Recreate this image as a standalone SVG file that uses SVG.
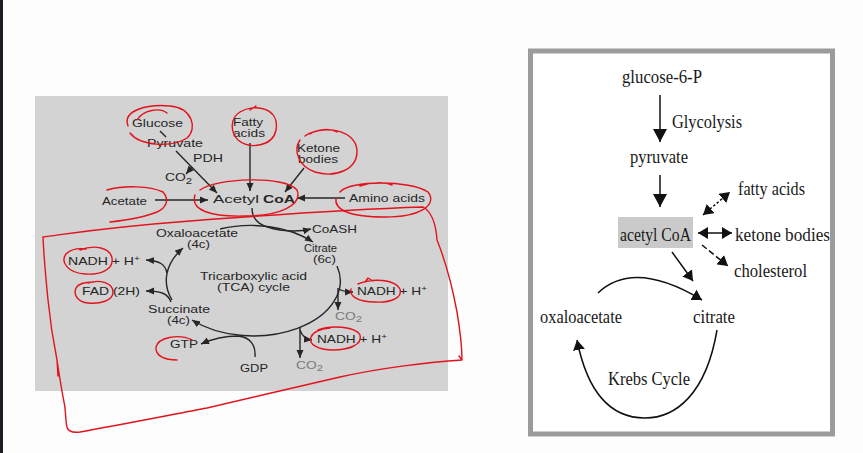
<svg xmlns="http://www.w3.org/2000/svg" width="863" height="453" viewBox="0 0 863 453">
<style>
.t{font-family:"Liberation Sans",Arial,sans-serif;font-size:11px;fill:#262626}
.b{font-weight:bold}
.g{fill:#7a7a7a}
.s{font-family:"Liberation Serif","Times New Roman",serif;font-size:19px;fill:#1a1a1a}
.ln{fill:none;stroke:#262626;stroke-width:1.4}
.la{fill:none;stroke:#262626;stroke-width:1.4;marker-end:url(#ah)}
.ra{fill:none;stroke:#111;stroke-width:1.5}
.red{fill:none;stroke:#e3121c;stroke-width:1.4;stroke-linecap:round;stroke-linejoin:round}
</style>
<defs>
<marker id="ah" markerUnits="userSpaceOnUse" markerWidth="9" markerHeight="8" refX="8" refY="4" orient="auto"><path d="M0,0.5 L8,4 L0,7.5 z" fill="#262626"/></marker>
<marker id="bh" markerUnits="userSpaceOnUse" markerWidth="14" markerHeight="14" refX="13" refY="7" orient="auto"><path d="M0,0 L13,7 L0,14 z" fill="#111"/></marker>
<marker id="mh" markerUnits="userSpaceOnUse" markerWidth="11" markerHeight="12" refX="10" refY="6" orient="auto-start-reverse"><path d="M0,0 L10,6 L0,12 z" fill="#111"/></marker>
</defs>
<rect x="0" y="0" width="863" height="453" fill="#fdfdfd"/>
<rect x="0" y="0" width="3" height="453" fill="#1b1f23"/>

<!-- LEFT PANEL -->
<rect id="left-panel" x="35" y="96" width="413" height="295" fill="#d3d3d3"/>

<g id="connectors-left">
<path class="ln" d="M160,131 L166,137"/>
<path class="la" d="M176,151 L217,193"/>
<path class="la" d="M192,167 L186,174"/>
<path class="la" d="M155,200 L208,200"/>
<path class="la" d="M250,143 L250,191"/>
<path class="la" d="M304,168 L285,192"/>
<path class="la" d="M345,198 L297,198"/>
<path class="la" d="M252,208 C252,222 262,227 280,230 C295,232 303,231 311,229"/>
<path class="la" d="M220,229 A87,55 0 0 1 313,242"/>
<path class="la" d="M337,266 A87,55 0 0 1 192,320"/>
<path class="la" d="M172,300 A87,55 0 0 1 183,248"/>
<path class="la" d="M167,273 C165,264 160,261 146,260"/>
<path class="la" d="M171,302 C168,294 162,291 146,291"/>
<path class="la" d="M255,357 C256,345 250,337 238,336 C224,336 212,339 201,344"/>
<path class="la" d="M338,288 L338,310"/>
<path class="la" d="M339,289 Q343,292 353,292"/>
<path class="la" d="M300,327 L300,358"/>
<path class="la" d="M300,330 Q303,339 312,340"/>
</g>

<g id="glucose"><text class="t" x="132" y="127" textLength="51" lengthAdjust="spacingAndGlyphs">Glucose</text></g>
<g id="pyruvate"><text class="t" x="147" y="147" textLength="56" lengthAdjust="spacingAndGlyphs">Pyruvate</text></g>
<g id="pdh"><text class="t" x="193" y="162" textLength="30" lengthAdjust="spacingAndGlyphs">PDH</text></g>
<g id="co2-top"><text class="t" x="165" y="181" font-size="13" textLength="27" lengthAdjust="spacingAndGlyphs">CO<tspan dy="3" font-size="9">2</tspan></text></g>
<g id="acetate"><text class="t" x="102" y="205" textLength="45" lengthAdjust="spacingAndGlyphs">Acetate</text></g>
<g id="acetyl-coa"><text class="t" x="213" y="203" textLength="46" lengthAdjust="spacingAndGlyphs">Acetyl</text><text class="t b" x="263" y="203" textLength="32" lengthAdjust="spacingAndGlyphs">CoA</text></g>
<g id="fatty-acids"><text class="t" x="233" y="126" textLength="30" lengthAdjust="spacingAndGlyphs">Fatty</text><text class="t" x="233" y="137" textLength="32" lengthAdjust="spacingAndGlyphs">acids</text></g>
<g id="ketone-bodies"><text class="t" x="297" y="152" textLength="43" lengthAdjust="spacingAndGlyphs">Ketone</text><text class="t" x="298" y="163" textLength="40" lengthAdjust="spacingAndGlyphs">bodies</text></g>
<g id="amino-acids"><text class="t" x="349" y="202" textLength="76" lengthAdjust="spacingAndGlyphs">Amino acids</text></g>
<g id="oxaloacetate-l"><text class="t" x="156" y="237" textLength="82" lengthAdjust="spacingAndGlyphs">Oxaloacetate</text><text class="t" x="187" y="248" textLength="23" lengthAdjust="spacingAndGlyphs">(4c)</text></g>
<g id="coash"><text class="t" x="312" y="233" textLength="45" lengthAdjust="spacingAndGlyphs">CoASH</text></g>
<g id="citrate-l"><text class="t" x="304" y="252" textLength="33" lengthAdjust="spacingAndGlyphs">Citrate</text><text class="t" x="313" y="263" textLength="23" lengthAdjust="spacingAndGlyphs">(6c)</text></g>
<g id="tca"><text class="t" x="200" y="280" textLength="107" lengthAdjust="spacingAndGlyphs">Tricarboxylic acid</text><text class="t" x="217" y="291" textLength="73" lengthAdjust="spacingAndGlyphs">(TCA) cycle</text></g>
<g id="nadh-l"><text class="t" x="68" y="265" textLength="72" lengthAdjust="spacingAndGlyphs">NADH + H<tspan font-size="8" dy="-4">+</tspan></text></g>
<g id="fad"><text class="t" x="82" y="295" textLength="58" lengthAdjust="spacingAndGlyphs">FAD (2H)</text></g>
<g id="succinate"><text class="t" x="148" y="313" textLength="62" lengthAdjust="spacingAndGlyphs">Succinate</text><text class="t" x="167" y="324" textLength="23" lengthAdjust="spacingAndGlyphs">(4c)</text></g>
<g id="gtp"><text class="t" x="170" y="348" textLength="28" lengthAdjust="spacingAndGlyphs">GTP</text></g>
<g id="gdp"><text class="t" x="240" y="372" textLength="28" lengthAdjust="spacingAndGlyphs">GDP</text></g>
<g id="nadh-r1"><text class="t" x="357" y="295" textLength="70" lengthAdjust="spacingAndGlyphs">NADH + H<tspan font-size="8" dy="-4">+</tspan></text></g>
<g id="co2-r1"><text class="t g" x="335" y="320" font-size="12" textLength="27" lengthAdjust="spacingAndGlyphs">CO<tspan dy="2" font-size="9">2</tspan></text></g>
<g id="nadh-r2"><text class="t" x="317" y="343" textLength="70" lengthAdjust="spacingAndGlyphs">NADH + H<tspan font-size="8" dy="-4">+</tspan></text></g>
<g id="co2-r2"><text class="t g" x="296" y="369" font-size="12" textLength="27" lengthAdjust="spacingAndGlyphs">CO<tspan dy="2" font-size="9">2</tspan></text></g>

<!-- red annotations -->
<g id="annotations">
<path class="red" d="M128,126 C122,110 148,104 170,106 C192,108 198,128 187,138 C172,148 140,146 130,133 M137,120 C143,110 160,107 167,113"/>
<path class="red" d="M240,112 C255,103 280,108 276,130 C273,146 250,150 238,140 C230,132 230,118 240,112 M250,110 L256,106"/>
<path class="red" d="M305,136 C320,125 355,128 357,150 C358,170 335,178 315,172 C298,166 293,150 300,140 M310,134 C318,129 330,128 337,132"/>
<path class="red" d="M200,190 C215,178 285,175 297,190 C303,205 280,216 245,216 C210,217 190,210 195,195"/>
<path class="red" d="M107,190 C125,185 150,186 163,192 C170,200 166,208 157,212 C145,217 128,220 110,222"/>
<path class="red" d="M340,192 C350,180 410,180 428,192 C438,205 420,217 385,217 C350,217 334,210 336,198 M360,186 C372,182 385,182 392,185"/>
<path class="red" d="M43,237 C80,232 110,227 190,221 C260,216 330,210 423,207 C432,212 436,225 437,240 C445,260 452,285 457,312 C460,330 462,345 462,360 L459,356 M462,360 C430,362 380,368 340,377 C300,386 250,398 207,408 C170,415 120,425 80,432 C72,433 68,431 67,427 C65,418 66,410 64,402 C62,392 60,380 57,360 C53,340 50,320 48,300 C46,280 44,260 43,237 M57,360 L58,376"/>
<path class="red" d="M80,250 C95,244 110,248 112,258 C114,270 100,275 85,274 C68,273 60,262 66,254 C70,250 78,248 86,249"/>
<path class="red" d="M88,283 C100,279 113,283 113,292 C113,301 100,304 88,303 C78,302 73,295 76,288 C78,284 84,282 94,282"/>
<path class="red" d="M192,340 C178,333 158,338 156,347 C155,356 165,360 177,360"/>
<path class="red" d="M358,284 C372,278 395,279 400,289 C403,298 390,303 375,302 C358,302 349,296 351,289 M365,282 L368,278 L373,281"/>
<path class="red" d="M318,330 C330,325 355,326 360,335 C363,345 348,350 333,350 C318,350 308,344 311,337 C313,332 320,329 330,328"/>
</g>

<!-- RIGHT PANEL -->
<rect id="right-panel" x="530.5" y="51" width="302" height="383" fill="#ffffff" stroke="#9b9b9b" stroke-width="5"/>

<g id="connectors-right">
<path class="ra" d="M660,95 L660,142" marker-end="url(#bh)"/>
<path class="ra" d="M660,175 L660,207" marker-end="url(#bh)"/>
<path class="ra" d="M698,233 L732,233" marker-start="url(#mh)" marker-end="url(#mh)"/>
<path class="ra" d="M703,215 L730,192" stroke-dasharray="2.5,2" marker-start="url(#mh)" marker-end="url(#mh)"/>
<path class="ra" d="M702,245 L728,266" stroke-dasharray="6,3" marker-end="url(#mh)"/>
<path class="ra" d="M672,252 L693,281" marker-end="url(#mh)"/>
<path class="ra" d="M598,293 Q634,259 702,300" marker-end="url(#mh)"/>
<path class="ra" d="M717,330 C706,395 675,418 645,418 C612,418 588,395 577,340" marker-end="url(#mh)"/>
</g>

<g id="glucose-6-p"><text class="s" x="622" y="83" textLength="80" lengthAdjust="spacingAndGlyphs">glucose-6-P</text></g>
<g id="glycolysis"><text class="s" x="672" y="128" textLength="70" lengthAdjust="spacingAndGlyphs">Glycolysis</text></g>
<g id="pyruvate-r"><text class="s" x="630" y="163" textLength="58" lengthAdjust="spacingAndGlyphs">pyruvate</text></g>
<g id="acetyl-coa-r"><rect x="618" y="217" width="75" height="31" fill="#cacaca"/><text class="s" x="620" y="241" textLength="71" lengthAdjust="spacingAndGlyphs">acetyl CoA</text></g>
<g id="fatty-acids-r"><text class="s" x="738" y="195" textLength="67" lengthAdjust="spacingAndGlyphs">fatty acids</text></g>
<g id="ketone-bodies-r"><text class="s" x="735" y="241" textLength="95" lengthAdjust="spacingAndGlyphs">ketone bodies</text></g>
<g id="cholesterol"><text class="s" x="734" y="277" textLength="73" lengthAdjust="spacingAndGlyphs">cholesterol</text></g>
<g id="oxaloacetate-r"><text class="s" x="540" y="323" textLength="82" lengthAdjust="spacingAndGlyphs">oxaloacetate</text></g>
<g id="citrate-r"><text class="s" x="693" y="323" textLength="42" lengthAdjust="spacingAndGlyphs">citrate</text></g>
<g id="krebs"><text class="s" x="608" y="385" textLength="82" lengthAdjust="spacingAndGlyphs">Krebs Cycle</text></g>
</svg>
